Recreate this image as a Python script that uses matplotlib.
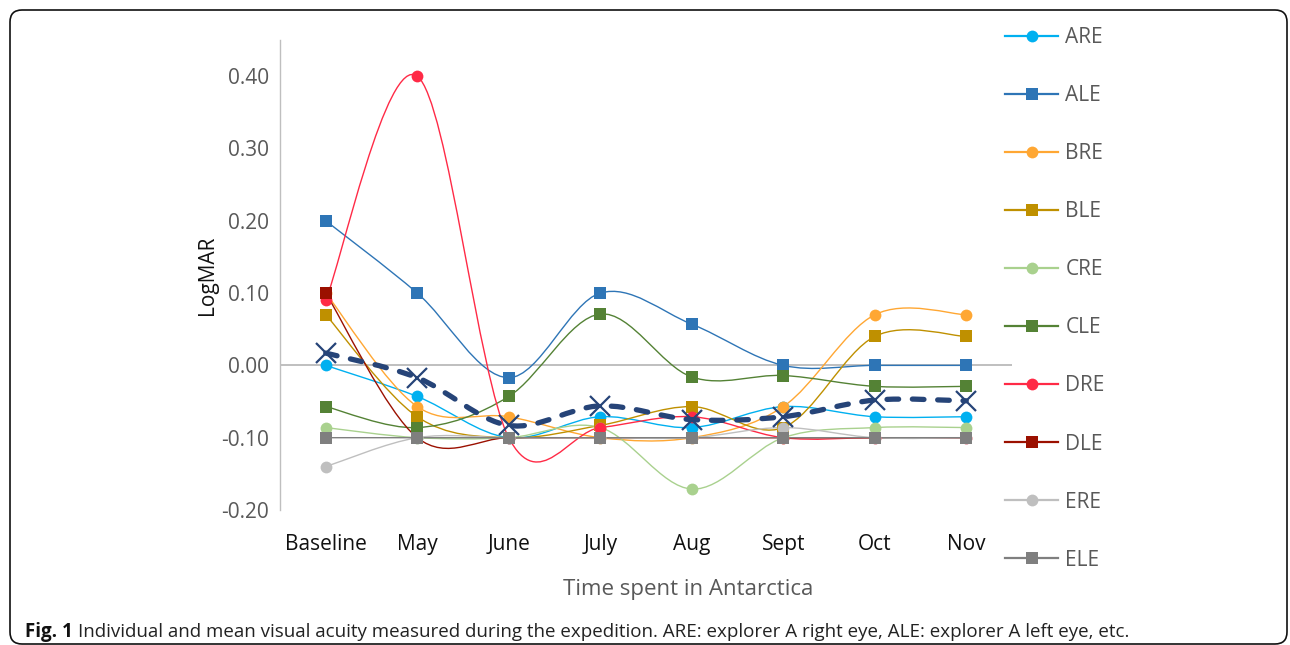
import matplotlib
matplotlib.use('Agg')
import matplotlib.pyplot as plt
from matplotlib.path import Path
from matplotlib.patches import PathPatch, FancyBboxPatch
from matplotlib.lines import Line2D

plt.rcParams['font.family'] = ['Open Sans', 'DejaVu Sans']

months = ['Baseline', 'May', 'June', 'July', 'Aug', 'Sept', 'Oct', 'Nov']

ARE = [0.000, -0.043, -0.100, -0.071, -0.086, -0.057, -0.071, -0.071]
ALE = [0.200, 0.100, -0.017, 0.100, 0.057, 0.000, 0.000, 0.000]
BRE = [0.100, -0.057, -0.071, -0.100, -0.100, -0.057, 0.070, 0.070]
BLE = [0.070, -0.071, -0.100, -0.083, -0.057, -0.086, 0.040, 0.040]
CRE = [-0.086, -0.100, -0.100, -0.086, -0.171, -0.100, -0.086, -0.086]
CLE = [-0.057, -0.086, -0.043, 0.071, -0.016, -0.014, -0.029, -0.029]
DRE = [0.090, 0.400, -0.100, -0.086, -0.071, -0.100, -0.100, -0.100]
DLE = [0.100, -0.100, -0.100, -0.100, -0.100, -0.100, -0.100, -0.100]
ERE = [-0.140, -0.100, -0.100, -0.100, -0.100, -0.086, -0.100, -0.100]
ELE = [-0.100, -0.100, -0.100, -0.100, -0.100, -0.100, -0.100, -0.100]
MEAN = [0.017, -0.017, -0.083, -0.056, -0.075, -0.071, -0.048, -0.049]

series_names = ['ARE', 'ALE', 'BRE', 'BLE', 'CRE', 'CLE', 'DRE', 'DLE', 'ERE', 'ELE']
series_vals = [ARE, ALE, BRE, BLE, CRE, CLE, DRE, DLE, ERE, ELE]
series_colors = ['#00B0F0', '#2E75B6', '#FFA733', '#BF9000', '#A9D18E',
                 '#548235', '#FF2A46', '#9B1000', '#BFBFBF', '#7F7F7F']
series_markers = ['o', 's', 'o', 's', 'o', 's', 'o', 's', 'o', 's']


def smooth_path(xs, ys):
    # excel style smoothed line: cubic bezier, catmull-rom control points
    n = len(xs)
    verts = [(xs[0], ys[0])]
    codes = [Path.MOVETO]
    for i in range(n - 1):
        i0 = max(i - 1, 0)
        i3 = min(i + 2, n - 1)
        c1 = (xs[i] + (xs[i + 1] - xs[i0]) / 6.0, ys[i] + (ys[i + 1] - ys[i0]) / 6.0)
        c2 = (xs[i + 1] - (xs[i3] - xs[i]) / 6.0, ys[i + 1] - (ys[i3] - ys[i]) / 6.0)
        verts += [c1, c2, (xs[i + 1], ys[i + 1])]
        codes += [Path.CURVE4, Path.CURVE4, Path.CURVE4]
    return Path(verts, codes)


fig = plt.figure(figsize=(12.9, 6.45), dpi=100)
ax = fig.add_axes([280 / 1290, 1 - 510 / 645, 732 / 1290, 470 / 645])

x = list(range(len(months)))
handles = []
for name, vals, col, mk in zip(series_names, series_vals, series_colors, series_markers):
    ax.add_patch(PathPatch(smooth_path(x, vals), fill=False, edgecolor=col, lw=1.0, zorder=2))
    ax.plot(x, vals, linestyle='none', marker=mk, markersize=8.5, color=col,
            markeredgewidth=0, zorder=3)
    handles.append(Line2D([], [], color=col, lw=1.6, marker=mk, markersize=8.5,
                          markeredgewidth=0, label=name))

mean_patch = PathPatch(smooth_path(x, MEAN), fill=False, edgecolor='#264478', lw=3.8,
                       linestyle=(0, (2.2, 2.6)), capstyle='round', zorder=4)
ax.add_patch(mean_patch)
ax.plot(x, MEAN, linestyle='none', marker='x', markersize=14, markeredgewidth=1.6,
        color='#264478', zorder=4)

ax.set_xlim(-0.5, 7.5)
ax.set_ylim(-0.20, 0.45)
ax.set_yticks([-0.2, -0.1, 0.0, 0.1, 0.2, 0.3, 0.4])
ax.set_yticklabels(['%.2f' % v for v in [-0.2, -0.1, 0.0, 0.1, 0.2, 0.3, 0.4]])
ax.set_xticks(x)
ax.set_xticklabels(months)
ax.tick_params(axis='y', length=0, labelsize=15, pad=8, labelcolor='#595959')
ax.tick_params(axis='x', length=0, labelsize=15, pad=17, labelcolor='#111111')

for s in ['top', 'right', 'bottom']:
    ax.spines[s].set_visible(False)
ax.spines['left'].set_color('#BFBFBF')
ax.spines['left'].set_linewidth(1.0)
ax.axhline(0, color='#BFBFBF', lw=1.4, zorder=1)

ax.text((207 - 280) / 732, 0.5, 'LogMAR', rotation=90, ha='center', va='center',
        fontsize=15, color='#111111', transform=ax.transAxes)
fig.text(688 / 1290, 1 - 590 / 645, 'Time spent in Antarctica', ha='center', va='center',
         fontsize=16, color='#595959')

fig.legend(handles=handles, loc='upper left', bbox_to_anchor=(1005 / 1290, 1 - 27 / 645),
           frameon=False, fontsize=15, labelspacing=1.78, handlelength=2.55,
           handletextpad=0.35, borderpad=0, borderaxespad=0, labelcolor='#595959')

# frame around the figure
fig.patches.append(FancyBboxPatch((0.10, 0.01), 12.77, 6.34,
                                  boxstyle='round,pad=0,rounding_size=0.12',
                                  transform=fig.dpi_scale_trans, fill=False,
                                  edgecolor='#111111', lw=1.2))

# caption
fig.canvas.draw()
r = fig.canvas.get_renderer()
cap_y = 1 - 637 / 645
t1 = fig.text(25 / 1290, cap_y, 'Fig. 1', fontsize=13.5, fontweight='bold',
              va='baseline', color='#111111')
bb = t1.get_window_extent(renderer=r)
fig.text(bb.x1 / 1290 + 5 / 1290, cap_y,
         'Individual and mean visual acuity measured during the expedition. '
         'ARE: explorer A right eye, ALE: explorer A left eye, etc.',
         fontsize=13.5, va='baseline', color='#222222')

plt.savefig('out.png', dpi=100)
